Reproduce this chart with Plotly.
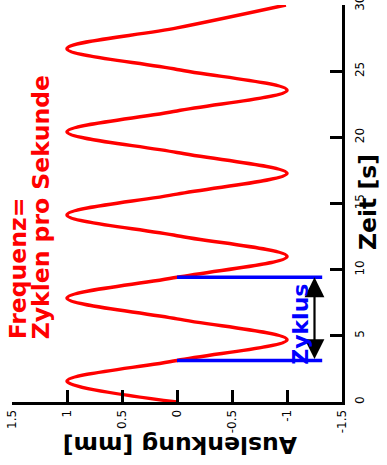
import plotly.graph_objects as go

# Displacement curve: points read at extrema and zero crossings (time in s, displacement in mm)
time_s = [0, 1.57, 3.14, 4.71, 6.28, 7.85, 9.42, 11.0, 12.57, 14.14, 15.71,
          17.28, 18.85, 20.42, 21.99, 23.56, 25.13, 26.70, 28.27, 30.0]
displacement_mm = [0, 1, 0, -1, 0, 1, 0, -1, 0, 1, 0,
                   -1, 0, 1, 0, -1, 0, 1, 0, -0.99]

# Cycle marker
cycle_times = [3.14, 9.42]
cycle_line_x = [0, -1.32]
cycle_arrow_x = -1.25

x_ticks = [1.5, 1, 0.5, 0, -0.5, -1, -1.5]
x_tick_labels = ["1.5", "1", "0.5", "0", "-0.5", "-1", "-1.5"]
y_ticks = [0, 5, 10, 15, 20, 25, 30]
y_tick_labels = ["0", "5", "10", "15", "20", "25", "30"]

FONT = "DejaVu Sans"
BIG = 23.5

fig = go.Figure()
fig.add_trace(go.Scatter(x=displacement_mm, y=time_s, mode="lines",
                         line=dict(color="#ff0000", width=3.5, shape="spline", smoothing=1.0),
                         hoverinfo="skip", showlegend=False))
for t in cycle_times:
    fig.add_trace(go.Scatter(x=cycle_line_x, y=[t, t], mode="lines",
                             line=dict(color="#0000ff", width=3.5),
                             hoverinfo="skip", showlegend=False))

annotations = [
    # double arrow
    dict(x=cycle_arrow_x, y=cycle_times[1], ax=cycle_arrow_x, ay=cycle_times[0],
         xref="x", yref="y", axref="x", ayref="y", text="", showarrow=True,
         arrowhead=2, startarrowhead=2, arrowside="end+start", arrowsize=1.8,
         startarrowsize=1.8,
         arrowwidth=2.2, arrowcolor="black", standoff=0, startstandoff=0),
    dict(x=(1.5 - (300 - 11.7) / 109.8), y=(402 - 324) / 13.23, xref="x", yref="y",
         text="<b>Zyklus</b>", textangle=-90, showarrow=False,
         font=dict(family=FONT, size=22, color="#0000ff")),
    dict(x=(1.5 - (18 - 11.7) / 109.8), y=(402 - 268) / 13.23, xref="x", yref="y",
         text="<b>Frequenz=</b>", textangle=-90, showarrow=False,
         font=dict(family=FONT, size=BIG, color="#ff0000")),
    dict(x=(1.5 - (41 - 11.7) / 109.8), y=(402 - 207) / 13.23, xref="x", yref="y",
         text="<b>Zyklen pro Sekunde</b>", textangle=-90, showarrow=False,
         font=dict(family=FONT, size=BIG, color="#ff0000")),
    dict(x=(384 - 12) / 330, y=(402 - 202) / 397, xref="paper", yref="paper",
         text="<b>Zeit [s]</b>", textangle=-90, showarrow=False,
         font=dict(family=FONT, size=BIG, color="black")),
    dict(x=(180 - 12) / 330, y=-(461 - 402) / 397, xref="paper", yref="paper",
         text="<b>Auslenkung [mm]</b>", textangle=180, showarrow=False,
         font=dict(family=FONT, size=BIG, color="black")),
]

fig.update_layout(
    width=387, height=465,
    margin=dict(l=12, r=45, t=5, b=63),
    paper_bgcolor="white", plot_bgcolor="white",
    font=dict(family=FONT, size=12, color="black"),
    annotations=annotations,
    xaxis=dict(range=[1.5, -1.5], tickvals=x_ticks, ticktext=x_tick_labels,
               tickangle=-90, showgrid=False, zeroline=False,
               showline=True, linecolor="black", linewidth=3,
               ticks="inside", ticklen=12, tickwidth=3, tickcolor="black",
               tickfont=dict(size=12), ticklabeloverflow="allow", automargin=False),
    yaxis=dict(range=[0, 30], side="right", tickvals=y_ticks, ticktext=y_tick_labels,
               tickangle=-90, showgrid=False, zeroline=False,
               showline=True, linecolor="black", linewidth=3,
               ticks="inside", ticklen=12, tickwidth=3, tickcolor="black",
               ticklabelstandoff=5,
               tickfont=dict(size=12), ticklabeloverflow="allow", automargin=False),
)

fig.write_html("out.html", config={"displayModeBar": False},
               post_script="document.body.style.margin='0';document.body.style.overflow='hidden';")
